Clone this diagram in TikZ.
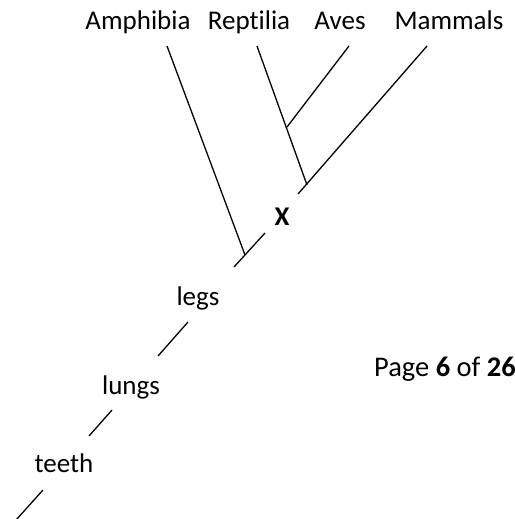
\documentclass[tikz,border=0pt]{standalone}
\usepackage{fontspec}
\setmainfont{Carlito}[Ligatures={NoCommon}]
\begin{document}
\begin{tikzpicture}[x=1pt,y=-1pt,
  branch/.style={line width=1.3pt, line cap=butt},
  taxon/.style={anchor=base, inner sep=0pt, font=\fontsize{27}{30}\selectfont},
  trait/.style={anchor=base, inner sep=0pt, font=\fontsize{27}{30}\selectfont},
  pagetext/.style={anchor=base west, inner sep=0pt, font=\fontsize{28.5}{32}\selectfont}]
\useasboundingbox (0,0) rectangle (514,519);
\clip (0,0) rectangle (514,519);
% labels
\node[taxon] (amph) at (138,29.5) {Amphibia};
\node[taxon] (rept) at (249,29.5) {Reptilia};
\node[taxon] (aves) at (340,29.5) {Aves};
\node[taxon] (mamm) at (449,29.5) {Mammals};
\node[trait] (legs) at (198,305) {legs};
\node[trait] (lungs) at (131,394) {lungs};
\node[trait] (teeth) at (64,472.5) {teeth};
\node[trait, font=\fontsize{27}{30}\selectfont\bfseries] (xlab) at (282,225) {X};
\node[pagetext] (page) at (374,376) {Page \textbf{6} of \textbf{26}};
% coordinates along the main line
\coordinate (root) at (16,520);
\coordinate (t1) at (43,490);
\coordinate (t2) at (89,436);
\coordinate (l1) at (112,410);
\coordinate (l2) at (158,356);
\coordinate (g1) at (188,322);
\coordinate (g2) at (234,267);
\coordinate (ja) at (245,255);
\coordinate (x1) at (265,233);
\coordinate (x2) at (298,194);
\coordinate (jr) at (307,185);
\coordinate (jb) at (287,127);
\coordinate (amphtop) at (167,46);
\coordinate (repttop) at (257,46);
\coordinate (avestop) at (349,46);
\coordinate (mammtop) at (427,46);
% main line segments
\draw[branch] (root) -- (t1);
\draw[branch] (t2) -- (l1);
\draw[branch] (l2) -- (g1);
\draw[branch] (g2) -- (x1);
\draw[branch] (x2) -- (mammtop);
% side branches
\draw[branch] (ja) -- (amphtop);
\draw[branch] (jr) -- (repttop);
\draw[branch] (jb) -- (avestop);
\end{tikzpicture}
\end{document}
